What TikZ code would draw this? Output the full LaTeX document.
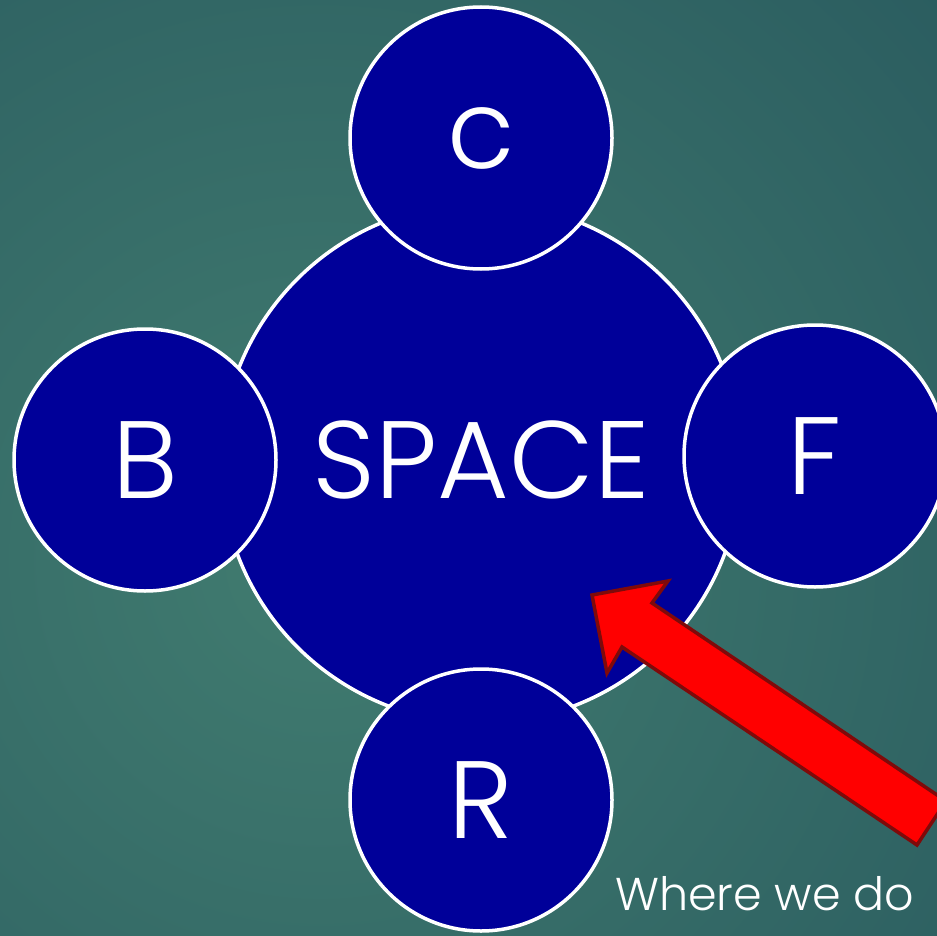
\documentclass[tikz,border=0pt]{standalone}
\usepackage{fontspec}
\setmainfont{Poppins Light}
\definecolor{bgin}{HTML}{417C70}
\definecolor{bgout}{HTML}{1F4C57}
\definecolor{discblue}{HTML}{000099}
\definecolor{arrowred}{HTML}{FF0000}
\definecolor{arrowedge}{HTML}{7F0A0A}
\tikzset{
  disc/.style={circle, fill=discblue, draw=white, line width=3.5pt, inner sep=0pt, text=white, font=\fontsize{110}{110}\selectfont},
  bigdisc/.style={disc, minimum size=520pt},
  smalldisc/.style={disc, minimum size=262pt},
  arrowshape/.style={fill=arrowred, draw=arrowedge, line width=3.5pt, line join=miter},
  caption/.style={text=white, font=\fontsize{46}{46}\selectfont, anchor=base west, inner sep=0pt}
}
\begin{document}
\begin{tikzpicture}[x=1pt,y=-1pt]
\useasboundingbox (0,0) rectangle (937,936);
\clip (0,0) rectangle (937,936);
\shade[inner color=bgin, outer color=bgout] (320,560) circle (1300);
\node[bigdisc] (main) at (481,463) {};
\node[text=white, font=\fontsize{110}{110}\selectfont] (spacetext) at (481,460) {SPACE};
\node[smalldisc] (c) at (481,138) {c};
\node[smalldisc] (b) at (145,460) {B};
\node[smalldisc] (f) at (815,456) {F};
\node[smalldisc] (r) at (481,800) {R};
\coordinate (tip) at (592,595);
\draw[arrowshape] (tip) -- (668,581) -- (652,603) -- (946,801) -- (917,845) -- (622,647) -- (607,673) -- cycle;
\node[caption] (where) at (615,910) {Where we do};
\end{tikzpicture}
\end{document}
